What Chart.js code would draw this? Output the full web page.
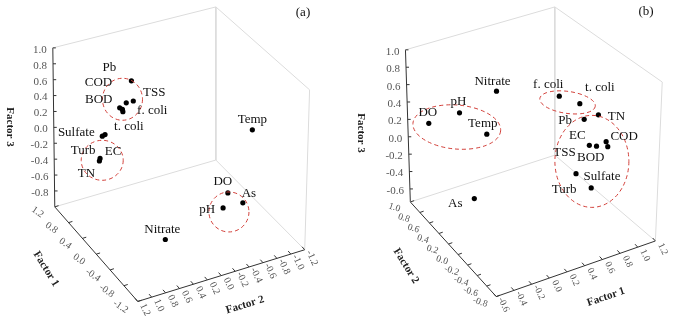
<!DOCTYPE html>
<html>
<head>
<meta charset="utf-8">
<script src="https://cdn.jsdelivr.net/npm/chart.js@4.4.0/dist/chart.umd.min.js"></script>
<style>
  html, body { margin: 0; padding: 0; background: #fff; }
  #wrap { position: relative; width: 676px; height: 323px; }
  .panel { position: absolute; top: 0; width: 338px; height: 323px; }
</style>
</head>
<body>
<div id="wrap">
  <div class="panel" style="left:0"><canvas id="chartA" width="338" height="323"></canvas></div>
  <div class="panel" style="left:338px"><canvas id="chartB" width="338" height="323"></canvas></div>
</div>
<script>
// --- DATA: factor loadings, panel (a) ---
const namesA   = ['Pb', 'COD', 'BOD', 'TSS', 'f. coli', 't. coli', 'Sulfate', 'Turb', 'EC', 'TN', 'Temp', 'DO', 'As', 'pH', 'Nitrate'];
const factor1A = [0.75, 0.85, 0.85, 0.85, 0.80, 0.80, 0.50, 0.45, 0.50, 0.45, -0.30, -0.50, -0.50, -0.60, -0.50];
const factor2A = [0.29, 0.37, 0.41, 0.21, 0.34, 0.39, 0.85, 0.91, 0.81, 0.92, -0.90, -0.45, -0.67, -0.33, 0.45];
const factor3A = [0.59, 0.20, 0.23, 0.27, 0.30, 0.20, 0.14, -0.10, 0.15, -0.13, 0.17, -0.42, -0.60, -0.53, -0.77];
const groupsA  = [['Pb', 'COD', 'BOD', 'TSS', 'f. coli', 't. coli'], ['Sulfate', 'Turb', 'EC', 'TN'], ['DO', 'As', 'pH']];

// --- DATA: factor loadings, panel (b) ---
const namesB   = ['Nitrate', 'DO', 'pH', 'Temp', 'f. coli', 't. coli', 'Pb', 'TN', 'EC', 'TSS', 'COD', 'BOD', 'Sulfate', 'Turb', 'As'];
const factor1B = [0.10, -0.50, -0.30, -0.20, 0.60, 0.70, 0.80, 0.85, 0.80, 0.85, 0.90, 0.90, 0.75, 0.80, -0.10];
const factor2B = [0.40, 0.74, 0.46, 0.10, 0.04, -0.17, -0.10, -0.27, -0.20, -0.25, -0.34, -0.37, -0.05, -0.25, 0.52];
const factor3B = [0.64, 0.27, 0.48, 0.40, 0.62, 0.61, 0.37, 0.49, 0.13, 0.13, 0.21, 0.17, -0.25, -0.32, -0.58];
const groupsB  = [['DO', 'pH', 'Temp'], ['f. coli', 't. coli'], ['Pb', 'TN', 'EC', 'TSS', 'COD', 'BOD', 'Sulfate', 'Turb']];

// --- tick labels ---
const ticksA3 = ['1.0', '0.8', '0.6', '0.4', '0.2', '0.0', '-0.2', '-0.4', '-0.6', '-0.8'];
const ticksA1 = ['1.2', '0.8', '0.4', '0.0', '-0.4', '-0.8', '-1.2'];
const ticksA2 = ['1.2', '1.0', '0.8', '0.6', '0.4', '0.2', '0.0', '-0.2', '-0.4', '-0.6', '-0.8', '-1.0', '-1.2'];
const ticksB3 = ['1.0', '0.8', '0.6', '0.4', '0.2', '0.0', '-0.2', '-0.4', '-0.6'];
const ticksB2 = ['1.0', '0.8', '0.6', '0.4', '0.2', '0.0', '-0.2', '-0.4', '-0.6', '-0.8'];
const ticksB1 = ['-0.6', '-0.4', '-0.2', '0.0', '0.2', '0.4', '0.6', '0.8', '1.0', '1.2'];

// --- layout (screen geometry of the 3D box, label offsets) ---
const panelA = {
  tag: '(a)', tagPos: [303, 13],
  leftIsF1: true, uRange: [1.2, -1.2], vRange: [1.2, -1.2], wRange: [-1.0, 1.0],
  ground: { L: [52, 208], F: [137, 305], R: [308, 252], B: [217, 160] },
  top:    { L: [50, 45],  F: [138, 135], R: [313, 88],  B: [217, 3] },
  leftTicks: ticksA1, rightTicks: ticksA2, vertTicks: ticksA3,
  leftRot: 35, leftOff: 18, rightRot: 65, rightOff: 11, groundFont: 10,
  titles: [
    { text: 'Factor 3', pos: [10, 127], rot: 90 },
    { text: 'Factor 1', pos: [46, 269], rot: 58 },
    { text: 'Factor 2', pos: [245, 305], rot: -17 }
  ],
  labelOff: {
    'Pb': [-22, -13], 'COD': [-24, -27], 'BOD': [-21, -8], 'TSS': [21, -8], 'f. coli': [26, 8], 't. coli': [6, 15],
    'Sulfate': [-26, -4], 'Turb': [-17, -8], 'EC': [8, 17], 'TN': [-13, 13], 'Temp': [0, -10], 'DO': [-5, -11],
    'As': [6, -9], 'pH': [-16, 2], 'Nitrate': [-3, -10]
  },
  rings: [
    { dx: -4, dy: 3, rx: 20, ry: 21, rot: 0 },
    { dx: 0, dy: 12.5, rx: 21, ry: 20, rot: 0 },
    { dx: -4, dy: 11.5, rx: 20, ry: 20, rot: 0 }
  ]
};

const panelB = {
  tag: '(b)', tagPos: [308, 12],
  leftIsF1: false, uRange: [1.0, -0.8], vRange: [-0.6, 1.2], wRange: [-0.75, 1.0],
  ground: { L: [70, 203], F: [158, 300], R: [321, 243], B: [218, 155] },
  top:    { L: [65, 47],  F: [160, 130], R: [328, 80],  B: [218, 3] },
  leftTicks: ticksB2, rightTicks: ticksB1, vertTicks: ticksB3,
  leftRot: 18, leftOff: 17, rightRot: 65, rightOff: 11, groundFont: 9.5,
  titles: [
    { text: 'Factor 3', pos: [23, 133], rot: 90 },
    { text: 'Factor 2', pos: [68, 266], rot: 58 },
    { text: 'Factor 1', pos: [268, 297], rot: -19 }
  ],
  labelOff: {
    'Nitrate': [-4, -10], 'DO': [-1, -11], 'pH': [-1, -11], 'Temp': [-4, -11], 'f. coli': [-11, -12], 't. coli': [20, -16],
    'Pb': [-19, 1], 'TN': [18, 2], 'EC': [-12, -10], 'TSS': [-32, 6], 'COD': [18, -5], 'BOD': [-17, 11],
    'Sulfate': [26, 3], 'Turb': [-27, 2], 'As': [-19, 5]
  },
  rings: [
    { dx: -1, dy: 3.5, rx: 44, ry: 22, rot: 5 },
    { dx: -2, dy: 2.5, rx: 28, ry: 11, rot: 8 },
    { dx: 0, dy: 10, rx: 37, ry: 46, rot: 0 }
  ]
};

const SERIF = '"Liberation Serif", "Times New Roman", serif';

// bilinear blend of the four corners of a face (s: L->F, t: F->R)
function bilerp(c, s, t) {
  const w = [(1 - s) * (1 - t), s * (1 - t), s * t, (1 - s) * t];
  return [
    w[0] * c.L[0] + w[1] * c.F[0] + w[2] * c.R[0] + w[3] * c.B[0],
    w[0] * c.L[1] + w[1] * c.F[1] + w[2] * c.R[1] + w[3] * c.B[1]
  ];
}

function makeProjector(box) {
  const norm = (s, t, h) => {
    const g = bilerp(box.ground, s, t), tp = bilerp(box.top, s, t);
    return [g[0] + (tp[0] - g[0]) * h, g[1] + (tp[1] - g[1]) * h];
  };
  const fn = (f1, f2, f3) => {
    const u = box.leftIsF1 ? f1 : f2;
    const v = box.leftIsF1 ? f2 : f1;
    const s = (u - box.uRange[0]) / (box.uRange[1] - box.uRange[0]);
    const t = (v - box.vRange[0]) / (box.vRange[1] - box.vRange[0]);
    const h = (f3 - box.wRange[0]) / (box.wRange[1] - box.wRange[0]);
    return norm(s, t, h);
  };
  fn.norm = norm;
  return fn;
}

const unit = (a, b) => {
  const dx = b[0] - a[0], dy = b[1] - a[1], l = Math.hypot(dx, dy);
  return [dx / l, dy / l];
};

function buildChart(canvasId, panel, names, f1, f2, f3, groups) {
  const proj = makeProjector(panel);
  const pts = names.map((n, i) => {
    const p = proj(f1[i], f2[i], f3[i]);
    return { x: p[0], y: p[1], name: n };
  });

  const g = panel.ground, t = panel.top;
  const edge = (a, b, color) => ({
    type: 'line', data: [{ x: a[0], y: a[1] }, { x: b[0], y: b[1] }],
    borderColor: color, borderWidth: 1, pointRadius: 0, fill: false, clip: false, order: 2
  });
  const grey = '#dcdcdc', dark = '#333';
  const datasets = [
    edge(t.L, t.B, grey), edge(t.B, t.R, grey), edge(t.R, g.R, grey),
    edge(t.B, g.B, grey), edge(g.L, g.B, grey), edge(g.B, g.R, grey),
    edge(t.L, g.L, dark), edge(g.L, g.F, dark), edge(g.F, g.R, dark),
    { data: pts, backgroundColor: '#000', borderWidth: 0, pointRadius: 2.6, clip: false, order: 1 }
  ];

  const overlay = {
    id: 'overlay',
    afterDatasetsDraw(chart) {
      const c = chart.ctx, sx = chart.scales.x, sy = chart.scales.y;
      const px = p => [sx.getPixelForValue(p[0]), sy.getPixelForValue(p[1])];
      const uSpan = panel.uRange[1] - panel.uRange[0];
      const vSpan = panel.vRange[1] - panel.vRange[0];
      const wSpan = panel.wRange[1] - panel.wRange[0];
      c.save();
      c.strokeStyle = dark;
      c.lineWidth = 1;
      c.fillStyle = '#555';
      c.font = '11px ' + SERIF;

      // vertical axis (Factor 3)
      c.textAlign = 'right';
      c.textBaseline = 'middle';
      panel.vertTicks.forEach(lbl => {
        const h = (parseFloat(lbl) - panel.wRange[0]) / wSpan;
        const p = px(proj.norm(0, 0, h));
        c.beginPath(); c.moveTo(p[0], p[1]); c.lineTo(p[0] + 3, p[1]); c.stroke();
        c.fillText(lbl, p[0] - 6, p[1] + 2);
      });

      // left ground axis
      c.font = panel.groundFont + 'px ' + SERIF;
      const inL = unit(g.F, g.R);
      c.textAlign = 'center';
      panel.leftTicks.forEach(lbl => {
        const s = (parseFloat(lbl) - panel.uRange[0]) / uSpan;
        const p = px(proj.norm(s, 0, 0));
        c.beginPath(); c.moveTo(p[0], p[1]); c.lineTo(p[0] + inL[0] * 4, p[1] + inL[1] * 4); c.stroke();
        c.save();
        c.translate(p[0] - inL[0] * panel.leftOff, p[1] - inL[1] * panel.leftOff);
        c.rotate(panel.leftRot * Math.PI / 180);
        c.fillText(lbl, 0, 0);
        c.restore();
      });

      // right ground axis
      const inR = unit(g.F, g.L);
      panel.rightTicks.forEach(lbl => {
        const tt = (parseFloat(lbl) - panel.vRange[0]) / vSpan;
        const p = px(proj.norm(1, tt, 0));
        c.beginPath(); c.moveTo(p[0], p[1]); c.lineTo(p[0] + inR[0] * 4, p[1] + inR[1] * 4); c.stroke();
        c.save();
        c.translate(p[0] - inR[0] * panel.rightOff, p[1] - inR[1] * panel.rightOff);
        c.rotate(panel.rightRot * Math.PI / 180);
        c.fillText(lbl, 0, 0);
        c.restore();
      });

      // axis titles
      c.fillStyle = '#222';
      c.font = 'bold 11px ' + SERIF;
      panel.titles.forEach(tl => {
        c.save();
        c.translate(tl.pos[0], tl.pos[1]);
        c.rotate(tl.rot * Math.PI / 180);
        c.fillText(tl.text, 0, 0);
        c.restore();
      });

      // panel tag
      c.font = '13px ' + SERIF;
      c.fillStyle = '#111';
      c.fillText(panel.tag, panel.tagPos[0], panel.tagPos[1]);

      // dashed rings round the groups
      c.strokeStyle = '#d2403a';
      c.setLineDash([4, 3]);
      groups.forEach((grp, gi) => {
        const ps = pts.filter(p => grp.includes(p.name)).map(p => px([p.x, p.y]));
        const xs = ps.map(p => p[0]), ys = ps.map(p => p[1]);
        const r = panel.rings[gi];
        const cx = (Math.min(...xs) + Math.max(...xs)) / 2 + r.dx;
        const cy = (Math.min(...ys) + Math.max(...ys)) / 2 + r.dy;
        c.beginPath();
        c.ellipse(cx, cy, r.rx, r.ry, r.rot * Math.PI / 180, 0, Math.PI * 2);
        c.stroke();
      });
      c.setLineDash([]);

      // point labels
      c.font = '13px ' + SERIF;
      c.fillStyle = '#111';
      pts.forEach(p => {
        const q = px([p.x, p.y]);
        const o = panel.labelOff[p.name];
        c.fillText(p.name, q[0] + o[0], q[1] + o[1]);
      });
      c.restore();
    }
  };

  return new Chart(document.getElementById(canvasId), {
    type: 'scatter',
    data: { datasets },
    options: {
      responsive: false,
      animation: false,
      devicePixelRatio: 1,
      events: [],
      layout: { padding: 0 },
      scales: {
        x: { type: 'linear', min: 0, max: 338, display: false },
        y: { type: 'linear', min: 0, max: 323, reverse: true, display: false }
      },
      plugins: { legend: { display: false }, tooltip: { enabled: false } }
    },
    plugins: [overlay]
  });
}

buildChart('chartA', panelA, namesA, factor1A, factor2A, factor3A, groupsA);
buildChart('chartB', panelB, namesB, factor1B, factor2B, factor3B, groupsB);
</script>
</body>
</html>
